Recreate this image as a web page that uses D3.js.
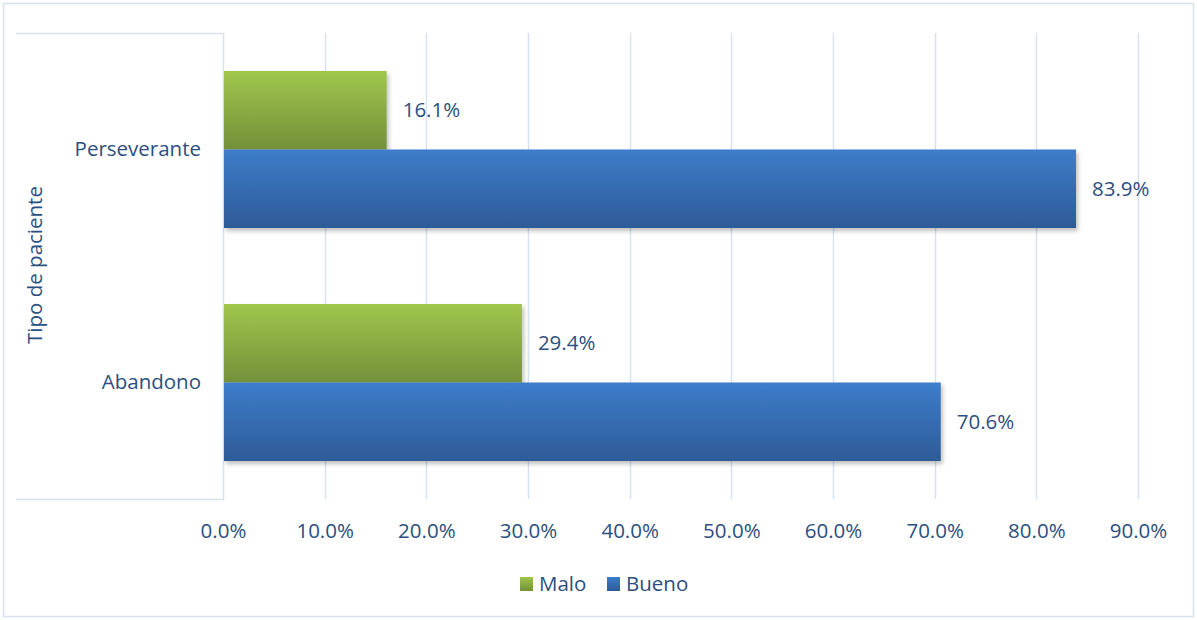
<!DOCTYPE html>
<html>
<head>
<meta charset="utf-8">
<script src="https://cdn.jsdelivr.net/npm/d3@7"></script>
<style>
  html, body { margin: 0; padding: 0; background: #fff; }
  svg { display: block; font-family: "Open Sans", "Noto Sans", sans-serif; }
</style>
</head>
<body>
<svg id="chart" width="1197" height="620"></svg>
<script>
// Patient type categories (top to bottom) and series values in percent
const categories = ["Perseverante", "Abandono"];
const seriesNames = ["Malo", "Bueno"];
const malo = [16.1, 29.4];
const bueno = [83.9, 70.6];
const xTicks = [0, 10, 20, 30, 40, 50, 60, 70, 80, 90];
const axisTitle = "Tipo de paciente";

const textColor = "#2b4f80";
const gridColor = "#d6e2f1";
const fs = 20.5;

const svg = d3.select("#chart");
const W = 1197, H = 620;

const defs = svg.append("defs");
const grads = {
  Malo: ["#a0c64c", "#74903a"],
  Bueno: ["#3d7dcb", "#2e5b97"]
};
Object.entries(grads).forEach(([k, [c1, c2]]) => {
  const g = defs.append("linearGradient").attr("id", "g-" + k)
    .attr("x1", 0).attr("y1", 0).attr("x2", 0).attr("y2", 1);
  g.append("stop").attr("offset", "0%").attr("stop-color", c1);
  g.append("stop").attr("offset", "100%").attr("stop-color", c2);
});
const shadow = defs.append("filter").attr("id", "shadow")
  .attr("x", "-5%").attr("y", "-10%").attr("width", "115%").attr("height", "130%");
shadow.append("feDropShadow").attr("dx", 2).attr("dy", 3).attr("stdDeviation", 2)
  .attr("flood-color", "#000").attr("flood-opacity", 0.25);

// Outer chart border
svg.append("rect").attr("x", 3.5).attr("y", 3.5).attr("width", W - 7).attr("height", H - 7)
  .attr("fill", "none").attr("stroke", gridColor).attr("stroke-width", 1.5);

const plot = { left: 223, top: 33, bottom: 499 };
const x = d3.scaleLinear().domain([0, 90]).range([plot.left, 1138]);
const y = d3.scaleBand().domain(categories).range([plot.top, plot.bottom]).paddingInner(0).paddingOuter(0);
const groupFrac = 157 / y.bandwidth();
const y1 = d3.scaleBand().domain(seriesNames)
  .range([y.bandwidth() * (1 - groupFrac) / 2, y.bandwidth() * (1 + groupFrac) / 2]);

// Category label box
svg.append("path")
  .attr("d", `M16,${plot.top + 0.5}H${plot.left + 0.5}V${plot.bottom + 0.5}H16`)
  .attr("fill", "none").attr("stroke", gridColor).attr("stroke-width", 1.5);

// Vertical gridlines
svg.append("g").selectAll("line").data(xTicks.slice(1)).join("line")
  .attr("x1", d => Math.round(x(d)) + 0.5).attr("x2", d => Math.round(x(d)) + 0.5)
  .attr("y1", plot.top).attr("y2", plot.bottom)
  .attr("stroke", gridColor).attr("stroke-width", 1.5);

// X axis tick labels
const xAxis = d3.axisBottom(x).tickValues(xTicks).tickSize(0).tickPadding(0)
  .tickFormat(d => d3.format(".1f")(d) + "%");
const xg = svg.append("g").attr("transform", `translate(0,${plot.bottom + 32})`).call(xAxis);
xg.select(".domain").remove();
xg.selectAll("text").attr("fill", textColor).attr("font-size", fs).attr("dy", "0.35em")
  .attr("font-family", "'Open Sans', sans-serif");

// Category labels
const yAxis = d3.axisLeft(y).tickSize(0).tickPadding(22);
const yg = svg.append("g").attr("transform", `translate(${plot.left},0)`).call(yAxis);
yg.select(".domain").remove();
yg.selectAll("text").attr("fill", textColor).attr("font-size", fs)
  .attr("font-family", "'Open Sans', sans-serif");

// Axis title
svg.append("text").attr("transform", `translate(42,265) rotate(-90)`)
  .attr("text-anchor", "middle").attr("font-size", fs).attr("fill", textColor)
  .text(axisTitle);

// Bars
const rows = [];
categories.forEach((c, i) => {
  rows.push({ cat: c, s: "Malo", v: malo[i] });
  rows.push({ cat: c, s: "Bueno", v: bueno[i] });
});
const bars = svg.append("g");
["Malo", "Bueno"].forEach(s => {
  bars.selectAll(null).data(rows.filter(r => r.s === s)).join("rect")
    .attr("x", x(0) + 1)
    .attr("y", d => y(d.cat) + y1(d.s))
    .attr("width", d => x(d.v) - x(0) - 1)
    .attr("height", y1.bandwidth())
    .attr("fill", `url(#g-${s})`)
    .attr("filter", "url(#shadow)");
});

// Value labels
svg.append("g").selectAll("text").data(rows).join("text")
  .attr("x", d => x(d.v) + 16)
  .attr("y", d => y(d.cat) + y1(d.s) + y1.bandwidth() / 2)
  .attr("dy", "0.35em")
  .attr("font-size", fs).attr("fill", textColor)
  .text(d => d3.format(".1f")(d.v) + "%");

// Legend
const legend = svg.append("g").attr("transform", "translate(520,584)");
const items = [{ s: "Malo", x: 0 }, { s: "Bueno", x: 87 }];
items.forEach(it => {
  legend.append("rect").attr("x", it.x).attr("y", -7).attr("width", 13).attr("height", 14)
    .attr("fill", `url(#g-${it.s})`);
  legend.append("text").attr("x", it.x + 19).attr("y", 0).attr("dy", "0.35em")
    .attr("font-size", fs).attr("fill", textColor).text(it.s);
});
</script>
</body>
</html>
